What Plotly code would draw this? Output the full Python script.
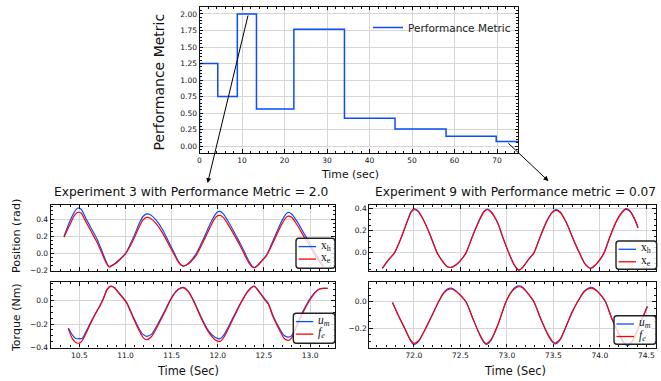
import plotly.graph_objects as go

W, H = 661, 381

# ---------------- data ----------------
step_time = [0, 0, 4.3, 8.9, 13.4, 22.2, 34.1, 46.0, 58.0, 69.8, 75]
step_metric = [0, 1.25, 0.75, 2.0, 0.56, 1.77, 0.42, 0.26, 0.15, 0.07, 0.07]

t3_pos = [10.334, 10.37, 10.40, 10.44, 10.47, 10.49, 10.52, 10.57, 10.63, 10.69, 10.74, 10.78, 10.81, 10.825,
          10.85, 10.90, 10.95, 11.00, 11.05, 11.10, 11.15, 11.19, 11.23, 11.27, 11.33, 11.40, 11.46, 11.52,
          11.57, 11.60, 11.627, 11.66, 11.70, 11.77, 11.85, 11.92, 11.97, 12.0, 12.024, 12.06, 12.12, 12.20,
          12.25, 12.295, 12.34, 12.37, 12.393, 12.42, 12.46, 12.50, 12.53, 12.58, 12.64, 12.70, 12.74, 12.764,
          12.80, 12.86, 12.93, 13.00, 13.06, 13.10, 13.145]
x_h3 = [0.196, 0.30, 0.38, 0.47, 0.52, 0.53, 0.515, 0.41, 0.29, 0.17, 0.04, -0.07, -0.14, -0.157,
        -0.145, -0.11, -0.06, -0.005, 0.10, 0.22, 0.35, 0.43, 0.46, 0.45, 0.39, 0.28, 0.15, 0.02,
        -0.09, -0.135, -0.15, -0.14, -0.10, 0.0, 0.18, 0.35, 0.45, 0.485, 0.49, 0.46, 0.36, 0.20,
        0.10, 0.0, -0.10, -0.15, -0.168, -0.155, -0.11, -0.06, -0.02, 0.10, 0.25, 0.39, 0.46, 0.478,
        0.46, 0.37, 0.24, 0.11, -0.01, -0.08, -0.15]
x_e3 = [0.185, 0.27, 0.34, 0.43, 0.47, 0.48, 0.47, 0.37, 0.25, 0.13, 0.01, -0.09, -0.15, -0.165,
        -0.15, -0.115, -0.065, -0.01, 0.08, 0.19, 0.31, 0.39, 0.42, 0.41, 0.35, 0.24, 0.12, 0.0,
        -0.10, -0.14, -0.152, -0.14, -0.11, -0.02, 0.15, 0.31, 0.41, 0.44, 0.443, 0.42, 0.32, 0.17,
        0.07, -0.03, -0.12, -0.16, -0.172, -0.158, -0.115, -0.065, -0.025, 0.08, 0.22, 0.35, 0.42, 0.435,
        0.42, 0.33, 0.20, 0.08, -0.04, -0.10, -0.16]

t3_tq = [10.381, 10.42, 10.46, 10.50, 10.53, 10.57, 10.62, 10.68, 10.73, 10.76, 10.80, 10.84, 10.88, 10.94,
         11.01, 11.08, 11.14, 11.19, 11.23, 11.28, 11.35, 11.43, 11.50, 11.57, 11.627, 11.68, 11.74, 11.82,
         11.90, 11.97, 12.024, 12.07, 12.13, 12.20, 12.26, 12.33, 12.393, 12.44, 12.50, 12.548, 12.60, 12.67,
         12.72, 12.764, 12.80, 12.86, 12.93, 13.00, 13.06, 13.10, 13.14, 13.19]
u_m3 = [-0.235, -0.29, -0.325, -0.327, -0.325, -0.27, -0.19, -0.10, -0.03, 0.02, 0.10, 0.128, 0.115, 0.06,
        -0.01, -0.13, -0.23, -0.29, -0.307, -0.29, -0.20, -0.08, 0.03, 0.10, 0.116, 0.085, 0.0, -0.14,
        -0.26, -0.315, -0.327, -0.29, -0.20, -0.09, 0.0, 0.09, 0.128, 0.09, 0.025, -0.023, -0.13, -0.24,
        -0.30, -0.313, -0.30, -0.20, -0.08, 0.02, 0.08, 0.103, 0.108, 0.108]
f_e3 = [-0.24, -0.32, -0.36, -0.365, -0.345, -0.285, -0.20, -0.105, -0.035, 0.015, 0.095, 0.125, 0.112, 0.055,
        -0.015, -0.14, -0.245, -0.315, -0.336, -0.31, -0.215, -0.09, 0.025, 0.095, 0.113, 0.08, -0.005, -0.15,
        -0.27, -0.335, -0.35, -0.31, -0.215, -0.10, -0.005, 0.085, 0.125, 0.085, 0.02, -0.03, -0.14, -0.255,
        -0.325, -0.342, -0.32, -0.215, -0.09, 0.01, 0.075, 0.10, 0.108, 0.108]

t9_pos = [71.66, 71.72, 71.79, 71.86, 71.93, 71.97, 72.00, 72.04, 72.10, 72.17, 72.25, 72.32, 72.36, 72.40,
          72.45, 72.50, 72.56, 72.63, 72.70, 72.75, 72.79, 72.83, 72.90, 72.96, 73.02, 73.08, 73.13, 73.18,
          73.23, 73.29, 73.36, 73.43, 73.48, 73.526, 73.57, 73.64, 73.71, 73.78, 73.84, 73.90, 73.95, 74.00,
          74.045, 74.11, 74.18, 74.24, 74.278, 74.32, 74.37, 74.41]
x_h9 = [-0.14, -0.07, 0.0, 0.13, 0.29, 0.37, 0.394, 0.38, 0.30, 0.17, 0.0, -0.09, -0.125, -0.131,
        -0.11, -0.07, 0.0, 0.15, 0.29, 0.37, 0.394, 0.37, 0.27, 0.13, 0.0, -0.11, -0.155, -0.12,
        -0.06, 0.0, 0.15, 0.29, 0.36, 0.388, 0.37, 0.27, 0.13, 0.0, -0.10, -0.14, -0.11, -0.06,
        0.0, 0.15, 0.29, 0.37, 0.397, 0.38, 0.31, 0.225]
x_e9 = [-0.14, -0.07, 0.0, 0.13, 0.285, 0.365, 0.388, 0.375, 0.30, 0.17, 0.0, -0.09, -0.125, -0.131,
        -0.11, -0.07, 0.0, 0.15, 0.285, 0.365, 0.388, 0.365, 0.27, 0.13, 0.0, -0.11, -0.155, -0.12,
        -0.06, 0.0, 0.15, 0.285, 0.355, 0.382, 0.365, 0.27, 0.13, 0.0, -0.10, -0.14, -0.11, -0.06,
        0.0, 0.15, 0.285, 0.365, 0.39, 0.375, 0.31, 0.225]

t9_tq = [71.77, 71.83, 71.90, 71.96, 72.00, 72.05, 72.12, 72.19, 72.265, 72.32, 72.36, 72.40, 72.44, 72.50,
         72.56, 72.63, 72.70, 72.75, 72.78, 72.83, 72.90, 72.99, 73.05, 73.10, 73.13, 73.17, 73.23, 73.29,
         73.37, 73.44, 73.49, 73.52, 73.57, 73.64, 73.70, 73.76, 73.83, 73.88, 73.91, 73.96, 74.01, 74.06,
         74.13, 74.20, 74.26, 74.30, 74.35, 74.43, 74.51]
u_m9 = [-0.005, -0.10, -0.20, -0.29, -0.323, -0.30, -0.21, -0.11, 0.0, 0.07, 0.097, 0.103, 0.09, 0.05,
        0.0, -0.12, -0.24, -0.305, -0.323, -0.29, -0.18, 0.0, 0.08, 0.115, 0.12, 0.11, 0.06, 0.0,
        -0.14, -0.25, -0.305, -0.318, -0.29, -0.18, -0.08, 0.0, 0.08, 0.105, 0.11, 0.09, 0.05, 0.0,
        -0.13, -0.24, -0.315, -0.331, -0.30, -0.17, -0.035]
f_e9 = [-0.005, -0.10, -0.20, -0.285, -0.315, -0.295, -0.21, -0.11, 0.0, 0.065, 0.09, 0.097, 0.085, 0.05,
        0.0, -0.12, -0.235, -0.30, -0.316, -0.285, -0.18, 0.0, 0.075, 0.108, 0.114, 0.105, 0.06, 0.0,
        -0.14, -0.245, -0.30, -0.312, -0.285, -0.18, -0.08, 0.0, 0.075, 0.1, 0.104, 0.085, 0.05, 0.0,
        -0.13, -0.235, -0.308, -0.325, -0.295, -0.17, -0.035]

# ---------------- styling helpers ----------------
BLUE = "#0a4cff"
RED = "#ff0000"
TICKFONT = dict(family="DejaVu Sans", size=7.5, color="#111111")


def px2x(p):
    return p / W


def px2y(p):
    return 1 - p / H


def axis(domain, rng, dtick, minor_dtick, fmt, labels=True):
    return dict(
        domain=domain, range=rng, dtick=dtick, tick0=0, tickformat=fmt,
        showticklabels=labels,
        showline=True, linecolor="#111111", linewidth=1.1, mirror="allticks",
        ticks="inside", ticklen=3.5, tickwidth=0.9, tickcolor="#111111",
        showgrid=True, gridcolor="#d6d6d6", gridwidth=1, zeroline=False,
        tickfont=TICKFONT,
        minor=dict(ticks="inside", ticklen=2, tickwidth=0.7, tickcolor="#111111",
                   dtick=minor_dtick, tick0=0, showgrid=False),
    )


fig = go.Figure()

fig.add_trace(go.Scatter(x=step_time, y=step_metric, mode="lines", line=dict(color=BLUE, width=1.5, shape="hv"),
                         name="Performance Metric", xaxis="x", yaxis="y"))

spline = dict(shape="spline", smoothing=0.7)
series = [
    (t3_pos, x_h3, BLUE, "x2", "y2"), (t3_pos, x_e3, RED, "x2", "y2"),
    (t3_tq, u_m3, BLUE, "x3", "y3"), (t3_tq, f_e3, RED, "x3", "y3"),
    (t9_pos, x_h9, BLUE, "x4", "y4"), (t9_pos, x_e9, RED, "x4", "y4"),
    (t9_tq, u_m9, BLUE, "x5", "y5"), (t9_tq, f_e9, RED, "x5", "y5"),
]
for xs, ys, col, xa, ya in series:
    fig.add_trace(go.Scatter(x=xs, y=ys, mode="lines", line=dict(color=col, width=1.2, **spline),
                             xaxis=xa, yaxis=ya, showlegend=False, hoverinfo="x+y"))

dx_top = [px2x(199.5), px2x(518.3)]
dy_top = [px2y(152.7), px2y(6.7)]
dx_l = [px2x(50.7), px2x(335)]
dx_r = [px2x(369.3), px2x(655.7)]
dy_pos = [px2y(271), px2y(205)]
dy_tq = [px2y(347.5), px2y(282)]

lay = dict(
    width=W, height=H, margin=dict(l=0, r=0, t=0, b=0, autoexpand=False),
    paper_bgcolor="white", plot_bgcolor="white",
    font=dict(family="DejaVu Sans", color="#111111"),
    xaxis=axis(dx_top, [0, 75], 10, 2, "d"),
    yaxis=axis(dy_top, [-0.10, 2.11], 0.25, 0.05, ".2f"),
    xaxis2=axis(dx_l, [10.19, 13.27], 0.5, 0.1, ".1f", labels=False),
    yaxis2=axis(dy_pos, [-0.21, 0.565], 0.2, 0.05, ".1f"),
    xaxis3=axis(dx_l, [10.19, 13.27], 0.5, 0.1, ".1f"),
    yaxis3=axis(dy_tq, [-0.403, 0.163], 0.2, 0.05, ".1f"),
    xaxis4=axis(dx_r, [71.52, 74.6], 0.5, 0.1, ".1f", labels=False),
    yaxis4=axis(dy_pos, [-0.163, 0.43], 0.2, 0.05, ".1f"),
    xaxis5=axis(dx_r, [71.52, 74.6], 0.5, 0.1, ".1f"),
    yaxis5=axis(dy_tq, [-0.346, 0.15], 0.2, 0.05, ".1f"),
    showlegend=True,
    legend=dict(x=px2x(368), y=px2y(13), xanchor="left", yanchor="top", bgcolor="rgba(0,0,0,0)",
                borderwidth=0, font=dict(family="DejaVu Sans", size=10.5, color="#222222"), itemwidth=30),
)
for i in ["", "2", "3", "4", "5"]:
    lay["xaxis" + i]["anchor"] = "y" + i
    lay["yaxis" + i]["anchor"] = "x" + i
fig.update_layout(**lay)


def label(text, x, y, size, angle=0, family="DejaVu Sans", anchor="center"):
    fig.add_annotation(text=text, x=px2x(x), y=px2y(y), xref="paper", yref="paper", showarrow=False,
                       textangle=angle, font=dict(family=family, size=size, color="#111111"),
                       xanchor=anchor, yanchor="middle")


label("Performance Metric", 158.5, 82, 14, -90)
label("Time (sec)", 350, 174, 10.9)
label("Experiment 3 with Performance Metric = 2.0", 190.5, 192, 12.3)
label("Experiment 9 with Performance metric = 0.07", 515.5, 192, 12.2)
label("Position (rad)", 16, 236, 11.2, -90)
label("Torque (Nm)", 16, 318, 11, -90)
label("Time (Sec)", 187.5, 371, 11.4)
label("Time (Sec)", 514.5, 371, 11.4)


# framed legends of the experiment panels
def legend_box(left, top, right, bottom, entries):
    rx, ry = 3 / W, 3 / H
    x0, x1 = px2x(left), px2x(right)
    y0, y1 = px2y(bottom), px2y(top)
    path = (f"M {x0+rx},{y0} L {x1-rx},{y0} Q {x1},{y0} {x1},{y0+ry} L {x1},{y1-ry} Q {x1},{y1} {x1-rx},{y1} "
            f"L {x0+rx},{y1} Q {x0},{y1} {x0},{y1-ry} L {x0},{y0+ry} Q {x0},{y0} {x0+rx},{y0} Z")
    fig.add_shape(type="path", path=path, xref="paper", yref="paper",
                  fillcolor="rgba(255,255,255,0.8)", line=dict(color="#222222", width=1.4))
    rows = [top + 8.3, top + 20.8]
    for (txt, col), yr in zip(entries, rows):
        fig.add_shape(type="line", xref="paper", yref="paper", x0=px2x(left + 2.5), x1=px2x(left + 20),
                      y0=px2y(yr), y1=px2y(yr), line=dict(color=col, width=1.3))
        label(txt, left + 23, yr - 1, 11.5, family="Liberation Serif", anchor="left")


legend_box(296, 238.3, 335, 268.3, [("x<sub>h</sub>", BLUE), ("x<sub>e</sub>", RED)])
legend_box(293.3, 313.3, 335, 343.3, [("<i>u<sub>m</sub></i>", BLUE), ("<i>f<sub>e</sub></i>", RED)])
legend_box(616, 241, 656.7, 269.3, [("x<sub>h</sub>", BLUE), ("x<sub>e</sub>", RED)])
legend_box(614, 315.7, 656, 344.3, [("<i>u<sub>m</sub></i>", BLUE), ("<i>f<sub>e</sub></i>", RED)])

# arrows from the top chart to the experiment panels
fig.add_annotation(x=1.9, y=-0.56, xref="x", yref="y", ax=11.5, ay=2.0, axref="x", ayref="y",
                   showarrow=True, arrowhead=2, arrowsize=1, arrowwidth=1, arrowcolor="black", text="")
fig.add_annotation(x=82.1, y=-0.53, xref="x", yref="y", ax=72.3, ay=0.065, axref="x", ayref="y",
                   showarrow=True, arrowhead=2, arrowsize=1, arrowwidth=1, arrowcolor="black", text="")

fig.write_html("out.html", config={"displayModeBar": False},
               post_script="document.body.style.margin='0px';")
